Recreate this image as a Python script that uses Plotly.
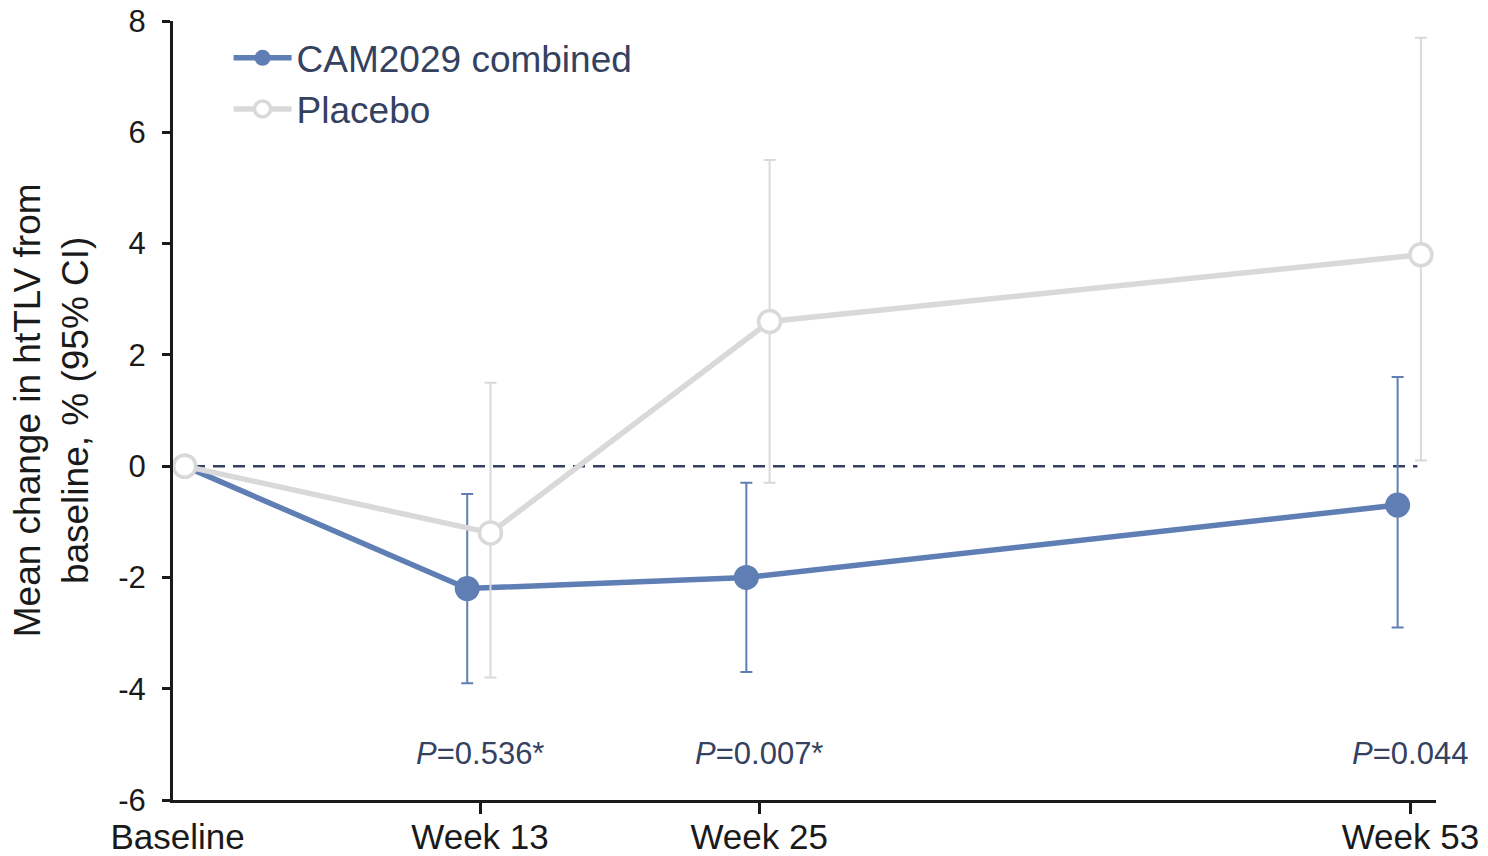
import plotly.graph_objects as go

# ---- data ----
timepoints = ["Baseline", "Week 13", "Week 25", "Week 53"]
weeks = [0, 13, 25, 53]

cam_mean = [0.0, -2.2, -2.0, -0.7]
cam_upper = [0.0, -0.5, -0.3, 1.6]
cam_lower = [0.0, -3.9, -3.7, -2.9]

pbo_mean = [0.0, -1.2, 2.6, 3.8]
pbo_upper = [0.0, 1.5, 5.5, 7.7]
pbo_lower = [0.0, -3.8, -0.3, 0.1]

p_weeks = [13, 25, 53]
p_values = ["0.536*", "0.007*", "0.044"]

y_ticks = [-6, -4, -2, 0, 2, 4, 6, 8]
y_ticklabels = ["-6", "-4", "-2", "0", "2", "4", "6", "8"]

# ---- style ----
BLUE = "#5f7eb4"
GREY = "#d9d9d9"
NAVY = "#34415f"
INK = "#1a1a1a"
FONT = "Liberation Sans, Arial, Helvetica, sans-serif"
BASE_POS = 0.3
DODGE_CAM = -0.55
DODGE_PBO = 0.45


def xpos(dodge):
    return [BASE_POS if w == 0 else w + dodge for w in weeks]


def err(mean, up, lo):
    return dict(type="data", symmetric=False,
                array=[u - m for u, m in zip(up, mean)],
                arrayminus=[m - l for m, l in zip(mean, lo)])


fig = go.Figure()

fig.add_trace(go.Scatter(
    x=xpos(DODGE_CAM), y=cam_mean, mode="lines+markers", name="CAM2029 combined",
    line=dict(color=BLUE, width=5.5),
    marker=dict(color=BLUE, size=25, line=dict(width=0)),
    error_y=dict(**err(cam_mean, cam_upper, cam_lower), color=BLUE, thickness=2, width=6),
))
fig.add_trace(go.Scatter(
    x=xpos(DODGE_PBO), y=pbo_mean, mode="lines+markers", name="Placebo",
    line=dict(color=GREY, width=5.5),
    marker=dict(color="white", size=22, line=dict(color=GREY, width=3.5)),
    error_y=dict(**err(pbo_mean, pbo_upper, pbo_lower), color=GREY, thickness=2, width=6),
))

# zero reference line
fig.add_shape(type="line", xref="x", yref="y", x0=-0.2, x1=53.3, y0=0, y1=0,
              line=dict(color=NAVY, width=2.5, dash="12px,8px"), layer="below")

# p-values
for w, p in zip(p_weeks, p_values):
    fig.add_annotation(x=w, y=-5.16, xref="x", yref="y", text=f"<i>P</i>={p}",
                       showarrow=False, font=dict(size=31, color=NAVY, family=FONT),
                       xanchor="center", yanchor="middle")

# y axis title (two lines)
fig.add_annotation(x=-0.096, y=0.5, xref="paper", yref="paper",
                   text="Mean change in htTLV from<br>baseline, % (95% CI)",
                   textangle=-90, showarrow=False,
                   font=dict(size=37, color=INK, family=FONT),
                   xanchor="center", yanchor="middle")

fig.update_layout(
    width=1480, height=848,
    margin=dict(l=165, r=52, t=13, b=56, autoexpand=False),
    paper_bgcolor="white", plot_bgcolor="white",
    font=dict(family=FONT, color=INK),
    showlegend=True,
    legend=dict(x=0.044, y=0.992, xanchor="left", yanchor="top",
                bgcolor="rgba(0,0,0,0)", font=dict(size=37, color=NAVY, family=FONT),
                tracegroupgap=15, itemwidth=58),
    xaxis=dict(range=[-0.2, 54.1], showgrid=False, zeroline=False, automargin=False,
               showline=True, linecolor=INK, linewidth=3,
               tickvals=weeks, ticktext=timepoints, ticks="",
               ticklabelstandoff=4, ticklabeloverflow="allow",
               minor=dict(tickvals=p_weeks, ticks="outside", ticklen=11,
                          tickwidth=3, tickcolor=INK, showgrid=False),
               tickfont=dict(size=35, color=INK, family=FONT)),
    yaxis=dict(range=[-6, 8], showgrid=False, zeroline=False, automargin=False,
               showline=True, linecolor=INK, linewidth=3,
               tickvals=y_ticks, ticktext=y_ticklabels,
               ticks="outside", ticklen=8, tickwidth=3,
               tickcolor=INK, ticklabelstandoff=10, ticklabeloverflow="allow",
               tickfont=dict(size=31, color=INK, family=FONT)),
)

fig.write_html("out.html")
